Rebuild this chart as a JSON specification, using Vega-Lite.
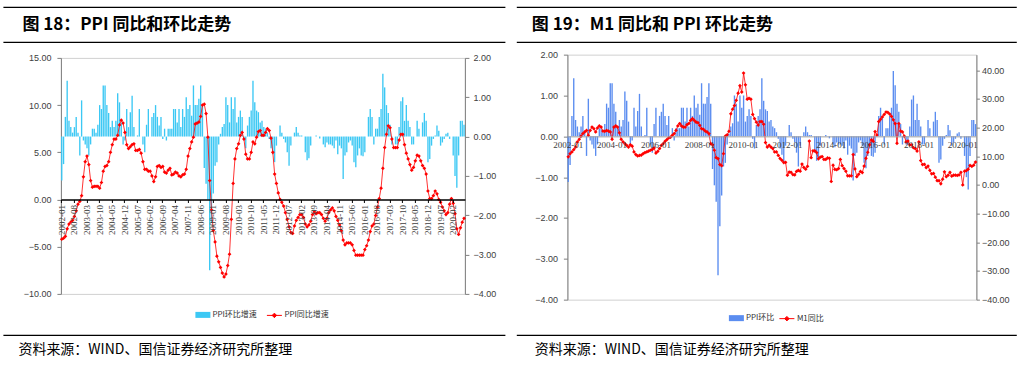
{
  "$schema": "https://vega.github.io/schema/vega-lite/v6.json",
  "background": "white",
  "padding": {"left": 2.4, "top": 6.4, "right": 0, "bottom": 0},
  "config": {
    "view": {"stroke": null},
    "axis": {"grid": false, "labelFont": "Liberation Sans", "labelFontSize": 9, "labelColor": "#404040", "domainColor": "#808080", "tickColor": "#808080"},
    "legend": {"labelFont": "Noto Sans CJK SC", "labelFontSize": 8, "labelColor": "#333333", "padding": 0, "labelOffset": 2}
  },
  "datasets": {
    "d": [
      {"m":"2002-01","mom":-1.12,"yoy":-4.2,"m1":9.8},{"m":"2002-02","mom":-0.7,"yoy":-4.1,"m1":10.9},{"m":"2002-03","mom":0.5,"yoy":-3.9,"m1":11.5},{"m":"2002-04","mom":1.42,"yoy":-3.1,"m1":12.3},{"m":"2002-05","mom":0.4,"yoy":-2.6,"m1":13.2},{"m":"2002-06","mom":0.24,"yoy":-2.4,"m1":15.0},{"m":"2002-07","mom":0.1,"yoy":-2.2,"m1":15.9},{"m":"2002-08","mom":0.24,"yoy":-1.8,"m1":17.0},{"m":"2002-09","mom":0.5,"yoy":-1.2,"m1":17.9},{"m":"2002-10","mom":0.1,"yoy":-0.5,"m1":18.5},{"m":"2002-11","mom":-0.48,"yoy":-0.2,"m1":19.0},{"m":"2002-12","mom":0.92,"yoy":0.4,"m1":17.3},
      {"m":"2003-01","mom":-0.1,"yoy":2.4,"m1":19.0},{"m":"2003-02","mom":-0.2,"yoy":4.0,"m1":20.2},{"m":"2003-03","mom":-0.3,"yoy":4.6,"m1":19.6},{"m":"2003-04","mom":-0.48,"yoy":3.7,"m1":18.5},{"m":"2003-05","mom":-0.2,"yoy":2.0,"m1":19.9},{"m":"2003-06","mom":0.2,"yoy":1.3,"m1":20.6},{"m":"2003-07","mom":0.2,"yoy":1.4,"m1":20.2},{"m":"2003-08","mom":0.1,"yoy":1.4,"m1":18.8},{"m":"2003-09","mom":0.3,"yoy":1.4,"m1":18.7},{"m":"2003-10","mom":0.8,"yoy":1.2,"m1":19.0},{"m":"2003-11","mom":0.7,"yoy":1.8,"m1":18.8},{"m":"2003-12","mom":1.3,"yoy":3.0,"m1":18.5},
      {"m":"2004-01","mom":1.3,"yoy":3.5,"m1":15.9},{"m":"2004-02","mom":0.8,"yoy":3.6,"m1":20.2},{"m":"2004-03","mom":0.6,"yoy":4.0,"m1":20.6},{"m":"2004-04","mom":0.24,"yoy":5.0,"m1":20.2},{"m":"2004-05","mom":0.4,"yoy":5.8,"m1":18.2},{"m":"2004-06","mom":0.24,"yoy":6.4,"m1":15.9},{"m":"2004-07","mom":0.4,"yoy":6.4,"m1":15.0},{"m":"2004-08","mom":1.1,"yoy":6.8,"m1":14.4},{"m":"2004-09","mom":0.87,"yoy":7.9,"m1":13.8},{"m":"2004-10","mom":0.36,"yoy":8.4,"m1":13.2},{"m":"2004-11","mom":-0.2,"yoy":8.1,"m1":14.0},{"m":"2004-12","mom":-0.1,"yoy":7.1,"m1":13.5},
      {"m":"2005-01","mom":0.7,"yoy":5.8,"m1":11.5},{"m":"2005-02","mom":0.24,"yoy":5.4,"m1":10.6},{"m":"2005-03","mom":0.62,"yoy":5.6,"m1":10.1},{"m":"2005-04","mom":1.04,"yoy":5.8,"m1":10.3},{"m":"2005-05","mom":0.24,"yoy":5.9,"m1":10.4},{"m":"2005-06","mom":0.0,"yoy":5.2,"m1":10.9},{"m":"2005-07","mom":0.03,"yoy":5.2,"m1":11.3},{"m":"2005-08","mom":0.7,"yoy":5.3,"m1":11.5},{"m":"2005-09","mom":0.0,"yoy":4.9,"m1":11.8},{"m":"2005-10","mom":-0.2,"yoy":4.0,"m1":12.1},{"m":"2005-11","mom":-0.4,"yoy":3.2,"m1":12.4},{"m":"2005-12","mom":0.3,"yoy":3.2,"m1":12.9},
      {"m":"2006-01","mom":0.7,"yoy":3.0,"m1":11.1},{"m":"2006-02","mom":0.0,"yoy":3.0,"m1":11.7},{"m":"2006-03","mom":0.5,"yoy":2.5,"m1":12.7},{"m":"2006-04","mom":0.6,"yoy":1.9,"m1":13.8},{"m":"2006-05","mom":0.8,"yoy":2.4,"m1":14.4},{"m":"2006-06","mom":0.5,"yoy":3.5,"m1":15.2},{"m":"2006-07","mom":0.28,"yoy":3.6,"m1":15.8},{"m":"2006-08","mom":0.5,"yoy":3.4,"m1":16.4},{"m":"2006-09","mom":-0.06,"yoy":3.5,"m1":16.7},{"m":"2006-10","mom":0.2,"yoy":2.9,"m1":17.3},{"m":"2006-11","mom":-0.1,"yoy":2.8,"m1":17.9},{"m":"2006-12","mom":0.2,"yoy":3.1,"m1":19.0},
      {"m":"2007-01","mom":0.2,"yoy":3.3,"m1":20.6},{"m":"2007-02","mom":0.2,"yoy":2.6,"m1":21.4},{"m":"2007-03","mom":0.7,"yoy":2.7,"m1":20.6},{"m":"2007-04","mom":0.7,"yoy":2.9,"m1":20.2},{"m":"2007-05","mom":0.36,"yoy":2.8,"m1":20.2},{"m":"2007-06","mom":0.7,"yoy":2.5,"m1":21.0},{"m":"2007-07","mom":0.24,"yoy":2.4,"m1":21.4},{"m":"2007-08","mom":0.7,"yoy":2.6,"m1":22.5},{"m":"2007-09","mom":0.5,"yoy":2.7,"m1":23.1},{"m":"2007-10","mom":1.0,"yoy":3.2,"m1":22.5},{"m":"2007-11","mom":0.7,"yoy":4.6,"m1":21.9},{"m":"2007-12","mom":0.8,"yoy":5.4,"m1":21.7},
      {"m":"2008-01","mom":0.53,"yoy":6.1,"m1":20.8},{"m":"2008-02","mom":1.3,"yoy":6.6,"m1":19.6},{"m":"2008-03","mom":0.8,"yoy":8.0,"m1":19.4},{"m":"2008-04","mom":0.8,"yoy":8.1,"m1":18.8},{"m":"2008-05","mom":0.96,"yoy":8.2,"m1":18.5},{"m":"2008-06","mom":1.3,"yoy":8.8,"m1":17.9},{"m":"2008-07","mom":0.8,"yoy":10.0,"m1":14.4},{"m":"2008-08","mom":-0.8,"yoy":10.1,"m1":14.0},{"m":"2008-09","mom":-1.2,"yoy":9.1,"m1":12.1},{"m":"2008-10","mom":-1.6,"yoy":6.6,"m1":9.5},{"m":"2008-11","mom":-3.4,"yoy":2.0,"m1":9.2},{"m":"2008-12","mom":-2.2,"yoy":-1.1,"m1":7.1},
      {"m":"2009-01","mom":-1.45,"yoy":-3.3,"m1":6.7},{"m":"2009-02","mom":-0.74,"yoy":-4.5,"m1":10.9},{"m":"2009-03","mom":-0.65,"yoy":-6.0,"m1":17.0},{"m":"2009-04","mom":-0.2,"yoy":-6.6,"m1":17.5},{"m":"2009-05","mom":0.07,"yoy":-7.2,"m1":18.7},{"m":"2009-06","mom":0.24,"yoy":-7.8,"m1":24.8},{"m":"2009-07","mom":0.32,"yoy":-8.2,"m1":26.4},{"m":"2009-08","mom":1.0,"yoy":-7.9,"m1":27.7},{"m":"2009-09","mom":0.8,"yoy":-7.0,"m1":29.5},{"m":"2009-10","mom":0.36,"yoy":-5.8,"m1":32.0},{"m":"2009-11","mom":1.0,"yoy":-2.1,"m1":34.6},{"m":"2009-12","mom":0.7,"yoy":1.7,"m1":32.4},
      {"m":"2010-01","mom":1.0,"yoy":4.3,"m1":39.0},{"m":"2010-02","mom":0.36,"yoy":5.4,"m1":34.9},{"m":"2010-03","mom":0.5,"yoy":5.9,"m1":29.9},{"m":"2010-04","mom":0.66,"yoy":6.8,"m1":30.2},{"m":"2010-05","mom":0.5,"yoy":7.1,"m1":29.9},{"m":"2010-06","mom":-0.06,"yoy":6.4,"m1":24.6},{"m":"2010-07","mom":-0.3,"yoy":4.8,"m1":23.1},{"m":"2010-08","mom":0.28,"yoy":4.3,"m1":21.9},{"m":"2010-09","mom":0.5,"yoy":4.3,"m1":20.9},{"m":"2010-10","mom":0.66,"yoy":5.0,"m1":22.1},{"m":"2010-11","mom":1.42,"yoy":6.1,"m1":22.1},{"m":"2010-12","mom":0.87,"yoy":5.9,"m1":21.2},
      {"m":"2011-01","mom":0.66,"yoy":6.6,"m1":14.8},{"m":"2011-02","mom":0.62,"yoy":7.2,"m1":13.2},{"m":"2011-03","mom":0.36,"yoy":7.3,"m1":13.8},{"m":"2011-04","mom":0.4,"yoy":6.8,"m1":13.2},{"m":"2011-05","mom":0.24,"yoy":6.8,"m1":12.7},{"m":"2011-06","mom":0.2,"yoy":7.1,"m1":11.5},{"m":"2011-07","mom":0.1,"yoy":7.5,"m1":11.5},{"m":"2011-08","mom":-0.06,"yoy":7.3,"m1":10.3},{"m":"2011-09","mom":-0.3,"yoy":6.5,"m1":9.2},{"m":"2011-10","mom":-0.45,"yoy":5.0,"m1":8.6},{"m":"2011-11","mom":-0.65,"yoy":2.7,"m1":7.8},{"m":"2011-12","mom":-0.23,"yoy":1.7,"m1":7.9},
      {"m":"2012-01","mom":0.0,"yoy":0.7,"m1":3.4},{"m":"2012-02","mom":0.28,"yoy":0.0,"m1":4.5},{"m":"2012-03","mom":0.1,"yoy":-0.3,"m1":4.4},{"m":"2012-04","mom":-0.06,"yoy":-0.7,"m1":3.6},{"m":"2012-05","mom":-0.15,"yoy":-1.4,"m1":3.5},{"m":"2012-06","mom":-0.4,"yoy":-2.1,"m1":4.7},{"m":"2012-07","mom":-0.74,"yoy":-2.9,"m1":5.1},{"m":"2012-08","mom":-0.23,"yoy":-3.5,"m1":4.8},{"m":"2012-09","mom":0.0,"yoy":-3.6,"m1":7.3},{"m":"2012-10","mom":0.1,"yoy":-2.8,"m1":6.1},{"m":"2012-11","mom":0.24,"yoy":-2.2,"m1":5.5},{"m":"2012-12","mom":0.1,"yoy":-1.9,"m1":6.5},
      {"m":"2013-01","mom":0.03,"yoy":-1.6,"m1":15.3},{"m":"2013-02","mom":0.03,"yoy":-1.6,"m1":9.5},{"m":"2013-03","mom":0.0,"yoy":-1.9,"m1":11.9},{"m":"2013-04","mom":-0.4,"yoy":-2.6,"m1":11.9},{"m":"2013-05","mom":-0.6,"yoy":-2.9,"m1":11.3},{"m":"2013-06","mom":-0.55,"yoy":-2.7,"m1":9.1},{"m":"2013-07","mom":-0.23,"yoy":-2.3,"m1":9.7},{"m":"2013-08","mom":0.0,"yoy":-1.6,"m1":9.9},{"m":"2013-09","mom":0.0,"yoy":-1.3,"m1":8.9},{"m":"2013-10","mom":0.03,"yoy":-1.5,"m1":8.9},{"m":"2013-11","mom":0.0,"yoy":-1.4,"m1":9.4},{"m":"2013-12","mom":-0.05,"yoy":-1.4,"m1":9.3},
      {"m":"2014-01","mom":0.0,"yoy":-1.6,"m1":1.2},{"m":"2014-02","mom":-0.2,"yoy":-2.0,"m1":6.9},{"m":"2014-03","mom":-0.27,"yoy":-2.3,"m1":5.4},{"m":"2014-04","mom":-0.15,"yoy":-2.0,"m1":5.3},{"m":"2014-05","mom":-0.2,"yoy":-1.4,"m1":5.7},{"m":"2014-06","mom":-0.2,"yoy":-1.1,"m1":8.9},{"m":"2014-07","mom":-0.23,"yoy":-0.9,"m1":6.7},{"m":"2014-08","mom":-0.3,"yoy":-1.2,"m1":5.7},{"m":"2014-09","mom":-0.1,"yoy":-1.8,"m1":4.8},{"m":"2014-10","mom":-0.45,"yoy":-2.2,"m1":3.2},{"m":"2014-11","mom":-0.23,"yoy":-2.7,"m1":3.2},{"m":"2014-12","mom":-0.3,"yoy":-3.3,"m1":3.2},
      {"m":"2015-01","mom":-1.08,"yoy":-4.3,"m1":10.6},{"m":"2015-02","mom":-0.48,"yoy":-4.8,"m1":5.6},{"m":"2015-03","mom":-0.4,"yoy":-4.6,"m1":2.9},{"m":"2015-04","mom":-0.15,"yoy":-4.6,"m1":3.7},{"m":"2015-05","mom":-0.1,"yoy":-4.6,"m1":4.7},{"m":"2015-06","mom":-0.23,"yoy":-4.8,"m1":4.3},{"m":"2015-07","mom":-0.65,"yoy":-5.4,"m1":6.6},{"m":"2015-08","mom":-0.78,"yoy":-5.9,"m1":9.3},{"m":"2015-09","mom":-0.48,"yoy":-5.9,"m1":11.4},{"m":"2015-10","mom":-0.3,"yoy":-5.9,"m1":14.0},{"m":"2015-11","mom":-0.48,"yoy":-5.9,"m1":15.7},{"m":"2015-12","mom":-0.5,"yoy":-5.9,"m1":15.2},
      {"m":"2016-01","mom":-0.4,"yoy":-5.3,"m1":18.6},{"m":"2016-02","mom":0.0,"yoy":-4.9,"m1":17.4},{"m":"2016-03","mom":0.5,"yoy":-4.3,"m1":22.1},{"m":"2016-04","mom":0.7,"yoy":-3.4,"m1":22.9},{"m":"2016-05","mom":0.5,"yoy":-2.8,"m1":23.7},{"m":"2016-06","mom":-0.2,"yoy":-2.6,"m1":24.6},{"m":"2016-07","mom":0.2,"yoy":-1.7,"m1":25.4},{"m":"2016-08","mom":0.2,"yoy":-0.8,"m1":25.3},{"m":"2016-09","mom":0.5,"yoy":0.1,"m1":24.7},{"m":"2016-10","mom":0.7,"yoy":1.2,"m1":23.9},{"m":"2016-11","mom":1.6,"yoy":3.3,"m1":22.7},{"m":"2016-12","mom":1.25,"yoy":5.5,"m1":21.4},
      {"m":"2017-01","mom":0.8,"yoy":6.9,"m1":14.5},{"m":"2017-02","mom":0.6,"yoy":7.8,"m1":21.4},{"m":"2017-03","mom":0.3,"yoy":7.6,"m1":18.8},{"m":"2017-04","mom":-0.2,"yoy":6.4,"m1":18.5},{"m":"2017-05","mom":0.0,"yoy":5.5,"m1":17.0},{"m":"2017-06","mom":-0.2,"yoy":5.5,"m1":15.0},{"m":"2017-07","mom":-0.2,"yoy":5.5,"m1":15.3},{"m":"2017-08","mom":0.24,"yoy":6.3,"m1":14.0},{"m":"2017-09","mom":0.9,"yoy":6.9,"m1":14.0},{"m":"2017-10","mom":1.0,"yoy":6.9,"m1":13.0},{"m":"2017-11","mom":0.4,"yoy":5.8,"m1":12.7},{"m":"2017-12","mom":0.8,"yoy":4.9,"m1":11.8},
      {"m":"2018-01","mom":0.4,"yoy":4.3,"m1":15.0},{"m":"2018-02","mom":0.24,"yoy":3.7,"m1":8.5},{"m":"2018-03","mom":-0.2,"yoy":3.1,"m1":7.1},{"m":"2018-04","mom":-0.2,"yoy":3.4,"m1":7.2},{"m":"2018-05","mom":0.0,"yoy":4.1,"m1":6.0},{"m":"2018-06","mom":0.4,"yoy":4.7,"m1":6.6},{"m":"2018-07","mom":0.2,"yoy":4.6,"m1":5.1},{"m":"2018-08","mom":0.0,"yoy":4.1,"m1":3.9},{"m":"2018-09","mom":0.36,"yoy":3.6,"m1":4.0},{"m":"2018-10","mom":0.6,"yoy":3.3,"m1":2.7},{"m":"2018-11","mom":0.4,"yoy":2.7,"m1":1.5},{"m":"2018-12","mom":-0.65,"yoy":0.9,"m1":1.5},
      {"m":"2019-01","mom":-0.57,"yoy":0.1,"m1":0.4},{"m":"2019-02","mom":-0.23,"yoy":0.1,"m1":2.0},{"m":"2019-03","mom":-0.06,"yoy":0.4,"m1":4.6},{"m":"2019-04","mom":0.03,"yoy":0.9,"m1":2.9},{"m":"2019-05","mom":0.28,"yoy":0.6,"m1":3.4},{"m":"2019-06","mom":0.15,"yoy":0.0,"m1":4.4},{"m":"2019-07","mom":-0.23,"yoy":-0.3,"m1":3.1},{"m":"2019-08","mom":-0.15,"yoy":-0.8,"m1":3.4},{"m":"2019-09","mom":-0.06,"yoy":-1.2,"m1":3.4},{"m":"2019-10","mom":0.07,"yoy":-1.6,"m1":3.3},{"m":"2019-11","mom":0.1,"yoy":-1.4,"m1":3.5},{"m":"2019-12","mom":-0.06,"yoy":-0.5,"m1":4.4},
      {"m":"2020-01","mom":0.0,"yoy":0.1,"m1":0.0},{"m":"2020-02","mom":-0.48,"yoy":-0.4,"m1":4.8},{"m":"2020-03","mom":-1.0,"yoy":-1.5,"m1":5.0},{"m":"2020-04","mom":-1.3,"yoy":-3.1,"m1":5.5},{"m":"2020-05","mom":-0.48,"yoy":-3.7,"m1":6.8},{"m":"2020-06","mom":0.4,"yoy":-3.0,"m1":6.5},{"m":"2020-07","mom":0.4,"yoy":-2.4,"m1":6.9},{"m":"2020-08","mom":0.3,"yoy":-2.0,"m1":8.0}
    ]
  },
  "vconcat": [
    {
      "hconcat": [
        {
          "width": 502, "height": 35,
          "view": {"stroke": null},
          "data": {"values": [{"t": "图 18：PPI 同比和环比走势"}]},
          "layer": [
            {"mark": {"type": "rule", "color": "#000000", "strokeWidth": 1.2}, "encoding": {"y": {"datum": 1, "type": "quantitative", "scale": {"domain": [0, 1]}, "axis": null}}},
            {"mark": {"type": "rule", "color": "#000000", "strokeWidth": 1.2}, "encoding": {"y": {"datum": 0, "type": "quantitative", "axis": null}}},
            {"mark": {"type": "text", "align": "left", "baseline": "middle", "dx": 19, "font": "Noto Sans CJK SC", "fontSize": 17, "fontWeight": "bold", "color": "#000000"},
             "encoding": {"x": {"datum": 0, "type": "quantitative", "scale": {"domain": [0, 1]}, "axis": null}, "y": {"datum": 0.5, "type": "quantitative", "axis": null}, "text": {"field": "t"}}}
          ]
        },
        {
          "width": 500, "height": 35,
          "view": {"stroke": null},
          "data": {"values": [{"t": "图 19：M1 同比和 PPI 环比走势"}]},
          "layer": [
            {"mark": {"type": "rule", "color": "#000000", "strokeWidth": 1.2}, "encoding": {"y": {"datum": 1, "type": "quantitative", "scale": {"domain": [0, 1]}, "axis": null}}},
            {"mark": {"type": "rule", "color": "#000000", "strokeWidth": 1.2}, "encoding": {"y": {"datum": 0, "type": "quantitative", "axis": null}}},
            {"mark": {"type": "text", "align": "left", "baseline": "middle", "dx": 15, "font": "Noto Sans CJK SC", "fontSize": 17, "fontWeight": "bold", "color": "#000000"},
             "encoding": {"x": {"datum": 0, "type": "quantitative", "scale": {"domain": [0, 1]}, "axis": null}, "y": {"datum": 0.5, "type": "quantitative", "axis": null}, "text": {"field": "t"}}}
          ]
        }
      ],
      "spacing": 9.4
    },
    {
      "vconcat": [
        {
          "hconcat": [
            {
              "width": 1, "height": 10,
              "view": {"stroke": null},
              "data": {"values": [{"t": ""}]},
              "mark": {"type": "text"},
              "encoding": {"text": {"field": "t"}}
            },
            {
              "width": 404, "height": 236,
              "view": {"stroke": "#D0D0D0"},
              "data": {"name": "d"},
              "encoding": {
                "x": {"field": "m", "type": "ordinal", "scale": {"paddingInner": 0.25, "paddingOuter": 0.1},
                  "axis": {"orient": "bottom", "offset": -94.4, "title": null, "zindex": 1, "labelAngle": -90, "labelOverlap": false,
                    "values": ["2002-01","2002-08","2003-03","2003-10","2004-05","2004-12","2005-07","2006-02","2006-09","2007-04","2007-11","2008-06","2009-01","2009-08","2010-03","2010-10","2011-05","2011-12","2012-07","2013-02","2013-09","2014-04","2014-11","2015-06","2016-01","2016-08","2017-03","2017-10","2018-05","2018-12","2019-07","2020-02"],
                    "labelFont": "Liberation Serif", "labelFontSize": 9, "labelPadding": 2, "domainColor": "#000000", "domainWidth": 1.6, "tickColor": "#000000", "tickSize": 3}}
              },
              "layer": [
                {
                  "mark": {"type": "bar"},
                  "encoding": {
                    "y": {"field": "mom", "type": "quantitative", "scale": {"domain": [-4, 2], "nice": false, "zero": false},
                      "axis": {"orient": "right", "title": null, "values": [-4, -3, -2, -1, 0, 1, 2], "format": ".2f", "tickSize": 4, "labelPadding": 4, "minExtent": 35, "maxExtent": 35}},
                    "fill": {"datum": "PPI环比增速", "type": "nominal", "scale": {"range": ["#3CC8F4"]},
                      "legend": {"orient": "none", "legendX": 134.5, "legendY": 249.5, "title": null, "symbolType": "M-1,-0.4H1V0.4H-1Z", "symbolSize": 225, "symbolStrokeWidth": 0}}
                  }
                },
                {
                  "mark": {"type": "line", "strokeWidth": 0.8, "point": {"shape": "diamond", "size": 14, "filled": true, "color": "#FF0000", "strokeWidth": 0}},
                  "encoding": {
                    "y": {"field": "yoy", "type": "quantitative", "scale": {"domain": [-10, 15], "nice": false, "zero": false},
                      "axis": {"orient": "left", "title": null, "values": [-10, -5, 0, 5, 10, 15], "format": ".2f", "tickSize": 4, "labelPadding": 6, "minExtent": 36.5, "maxExtent": 36.5}},
                    "stroke": {"datum": "PPI同比增速", "type": "nominal", "scale": {"range": ["#FF0000"]},
                      "legend": {"orient": "none", "legendX": 205.5, "legendY": 249.5, "title": null, "symbolType": "M-1,0H1M-0.3,0L0,-0.3L0.3,0L0,0.3Z", "symbolSize": 225, "symbolStrokeWidth": 1,
                        "encode": {"symbols": {"update": {"fill": {"value": "#FF0000"}}}}}}
                  }
                }
              ],
              "resolve": {"scale": {"y": "independent"}, "axis": {"y": "independent"}}
            },
            {
              "width": 409, "height": 245,
              "view": {"stroke": "#D0D0D0"},
              "data": {"name": "d"},
              "encoding": {
                "x": {"field": "m", "type": "ordinal", "scale": {"paddingInner": 0.25, "paddingOuter": 0.1},
                  "axis": {"orient": "bottom", "offset": -163.3, "title": null, "zindex": 1, "labelAngle": 0, "labelOverlap": false, "ticks": false,
                    "values": ["2002-01","2004-01","2006-01","2008-01","2010-01","2012-01","2014-01","2016-01","2018-01","2020-01"],
                    "labelFont": "Liberation Serif", "labelFontSize": 9, "labelPadding": 4, "domainColor": "#A0A0A0", "domainWidth": 1}}
              },
              "layer": [
                {
                  "mark": {"type": "bar"},
                  "encoding": {
                    "y": {"field": "mom", "type": "quantitative", "scale": {"domain": [-4, 2], "nice": false, "zero": false},
                      "axis": {"orient": "left", "title": null, "values": [-4, -3, -2, -1, 0, 1, 2], "format": ".2f", "tickSize": 4, "labelPadding": 6, "minExtent": 48.5, "maxExtent": 48.5}},
                    "fill": {"datum": "PPI环比", "type": "nominal", "scale": {"range": ["#5B8DF0"]},
                      "legend": {"orient": "none", "legendX": 161.5, "legendY": 256, "title": null, "symbolType": "M-1,-0.4H1V0.4H-1Z", "symbolSize": 225, "symbolStrokeWidth": 0}}
                  }
                },
                {
                  "mark": {"type": "line", "strokeWidth": 0.8, "point": {"shape": "diamond", "size": 14, "filled": true, "color": "#FF0000", "strokeWidth": 0}},
                  "encoding": {
                    "y": {"field": "m1", "type": "quantitative", "scale": {"domain": [-40, 45.44], "nice": false, "zero": false},
                      "axis": {"orient": "right", "title": null, "values": [-40, -30, -20, -10, 0, 10, 20, 30, 40], "format": ".2f", "tickSize": 3, "labelPadding": 2}},
                    "stroke": {"datum": "M1同比", "type": "nominal", "scale": {"range": ["#FF0000"]},
                      "legend": {"orient": "none", "legendX": 211.5, "legendY": 256, "title": null, "symbolType": "M-1,0H1M-0.3,0L0,-0.3L0.3,0L0,0.3Z", "symbolSize": 225, "symbolStrokeWidth": 1,
                        "encode": {"symbols": {"update": {"fill": {"value": "#FF0000"}}}}}}
                  }
                }
              ],
              "resolve": {"scale": {"y": "independent"}, "axis": {"y": "independent"}}
            }
          ],
          "spacing": 17.5,
          "center": true,
          "resolve": {"scale": {"fill": "independent", "stroke": "independent"}, "legend": {"fill": "independent", "stroke": "independent"}}
        },
        {
          "hconcat": [
            {
              "width": 502, "height": 28,
              "view": {"stroke": null},
              "data": {"values": [{"t": "资料来源：WIND、国信证券经济研究所整理"}]},
              "layer": [
                {"mark": {"type": "rule", "color": "#000000", "strokeWidth": 1.2}, "encoding": {"y": {"datum": 1, "type": "quantitative", "scale": {"domain": [0, 1]}, "axis": null}}},
                {"mark": {"type": "text", "align": "left", "baseline": "middle", "dx": 15, "font": "Noto Sans CJK SC", "fontSize": 14, "color": "#000000"},
                 "encoding": {"x": {"datum": 0, "type": "quantitative", "scale": {"domain": [0, 1]}, "axis": null}, "y": {"datum": 0.47, "type": "quantitative", "axis": null}, "text": {"field": "t"}}}
              ]
            },
            {
              "width": 500, "height": 28,
              "view": {"stroke": null},
              "data": {"values": [{"t": "资料来源：WIND、国信证券经济研究所整理"}]},
              "layer": [
                {"mark": {"type": "rule", "color": "#000000", "strokeWidth": 1.2}, "encoding": {"y": {"datum": 1, "type": "quantitative", "scale": {"domain": [0, 1]}, "axis": null}}},
                {"mark": {"type": "text", "align": "left", "baseline": "middle", "dx": 18, "font": "Noto Sans CJK SC", "fontSize": 14, "color": "#000000"},
                 "encoding": {"x": {"datum": 0, "type": "quantitative", "scale": {"domain": [0, 1]}, "axis": null}, "y": {"datum": 0.47, "type": "quantitative", "axis": null}, "text": {"field": "t"}}}
              ]
            }
          ],
          "spacing": 9.4
        }
      ],
      "spacing": 10,
      "resolve": {"scale": {"fill": "independent", "stroke": "independent"}, "legend": {"fill": "independent", "stroke": "independent"}}
    }
  ],
  "spacing": 6,
  "resolve": {"scale": {"fill": "independent", "stroke": "independent"}, "legend": {"fill": "independent", "stroke": "independent"}}
}
